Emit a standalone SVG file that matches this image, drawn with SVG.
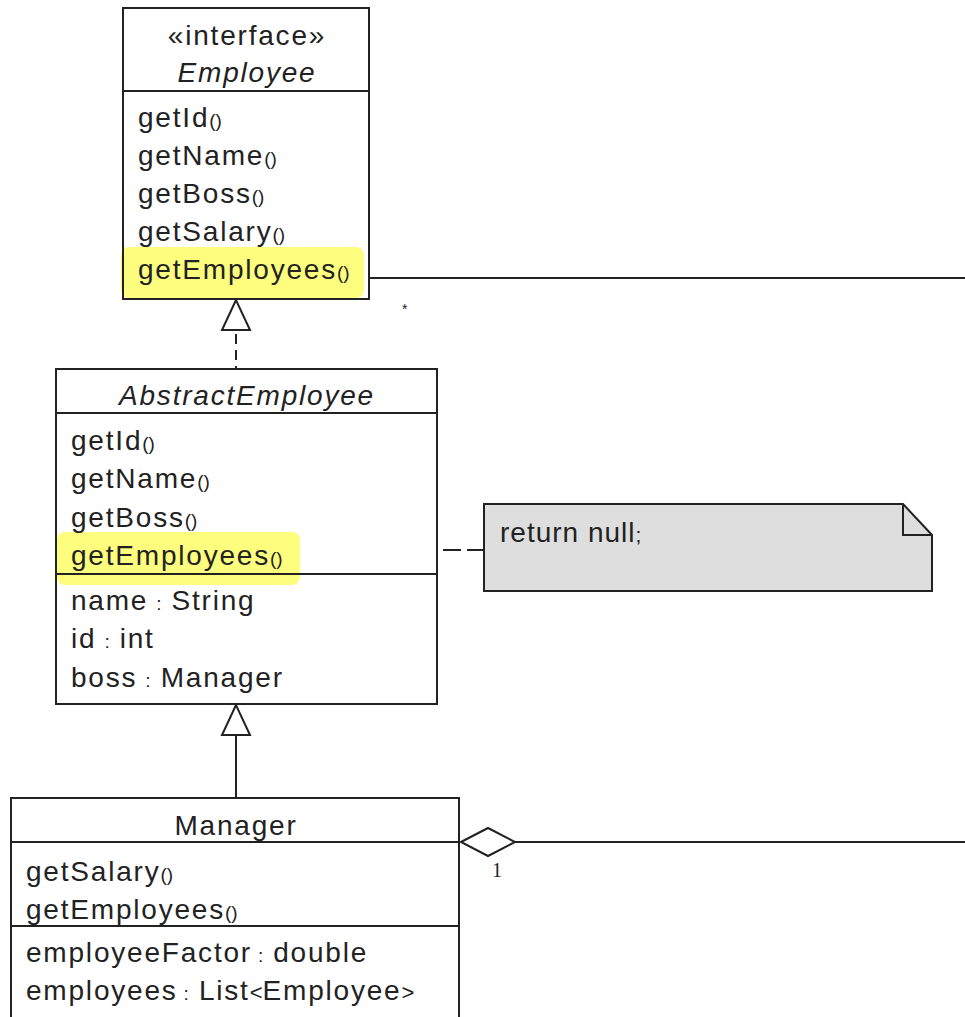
<svg xmlns="http://www.w3.org/2000/svg" width="965" height="1017" viewBox="0 0 965 1017">
<style>
.t{font-family:"Liberation Sans",Arial,sans-serif;font-size:28px;fill:#222;letter-spacing:1.8px}
.c{text-anchor:middle}
.i{font-style:italic}
.p{font-size:19px;letter-spacing:0}
.box{fill:#fff;stroke:#222;stroke-width:2}
.ln{stroke:#222;stroke-width:2;fill:none}
.hl{fill:#fdfd7e}
</style>
<rect width="965" height="1017" fill="#fff"/>
<g id="connectors">
  <line class="ln" x1="369" y1="278" x2="965" y2="278"/>
  <text x="402" y="314" style="font-family:'Liberation Sans',Arial,sans-serif;font-size:14px;fill:#222">*</text>
  <polygon class="ln" points="236,300 222,330 250,330"/>
  <line class="ln" x1="236" y1="330" x2="236" y2="369" stroke-dasharray="10 6" stroke-dashoffset="-4"/>
  <polygon class="ln" points="236,705 222,735 250,735"/>
  <line class="ln" x1="236" y1="735" x2="236" y2="798"/>
  <line class="ln" x1="443" y1="550" x2="484" y2="550" stroke-dasharray="18 6"/>
  <polygon class="ln" points="461,842 488,828 515,842 488,856"/>
  <line class="ln" x1="515" y1="842" x2="965" y2="842"/>
  <text x="492" y="877" style="font-family:'Liberation Serif','Times New Roman',serif;font-size:20px;fill:#222">1</text>
</g>
<g id="employee">
  <rect class="box" x="123" y="8" width="246" height="291"/>
  <rect class="hl" x="121" y="247" width="243" height="51" rx="8"/>
  <rect x="123" y="8" width="246" height="291" fill="none" stroke="#222" stroke-width="2"/>
  <line class="ln" x1="123" y1="91" x2="369" y2="91"/>
  <text class="t c" x="247" y="45">«interface»</text>
  <text class="t c i" x="247" y="82">Employee</text>
  <text class="t" x="138" y="127">getId<tspan class="p">()</tspan></text>
  <text class="t" x="138" y="165">getName<tspan class="p">()</tspan></text>
  <text class="t" x="138" y="203">getBoss<tspan class="p">()</tspan></text>
  <text class="t" x="138" y="241">getSalary<tspan class="p">()</tspan></text>
  <text class="t" x="138" y="279">getEmployees<tspan class="p">()</tspan></text>
</g>
<g id="abstractEmployee">
  <rect class="box" x="56" y="369" width="381" height="335"/>
  <rect class="hl" x="57" y="532" width="243" height="53" rx="8"/>
  <rect x="56" y="369" width="381" height="335" fill="none" stroke="#222" stroke-width="2"/>
  <line class="ln" x1="56" y1="413" x2="437" y2="413"/>
  <line class="ln" x1="56" y1="574" x2="437" y2="574"/>
  <text class="t c i" x="247" y="405">AbstractEmployee</text>
  <text class="t" x="71" y="450">getId<tspan class="p">()</tspan></text>
  <text class="t" x="71" y="488">getName<tspan class="p">()</tspan></text>
  <text class="t" x="71" y="527">getBoss<tspan class="p">()</tspan></text>
  <text class="t" x="71" y="565">getEmployees<tspan class="p">()</tspan></text>
  <text class="t" x="71" y="610">name<tspan class="p" dx="8">:</tspan><tspan dx="10">String</tspan></text>
  <text class="t" x="71" y="648">id<tspan class="p" dx="8">:</tspan><tspan dx="10">int</tspan></text>
  <text class="t" x="71" y="687">boss<tspan class="p" dx="8">:</tspan><tspan dx="10">Manager</tspan></text>
</g>
<g id="note">
  <path d="M484,504 H903 L932,535 V591 H484 Z" fill="#dedede" stroke="#222" stroke-width="2"/>
  <path d="M903,504 V535 H932" class="ln"/>
  <text class="t" x="500" y="542" style="font-size:28px;letter-spacing:1px">return null<tspan class="p" style="font-size:21px">;</tspan></text>
</g>
<g id="manager">
  <rect class="box" x="11" y="798" width="448" height="232"/>
  <line class="ln" x1="11" y1="842" x2="459" y2="842"/>
  <line class="ln" x1="11" y1="926" x2="459" y2="926"/>
  <text class="t c" x="236" y="835">Manager</text>
  <text class="t" x="26" y="881">getSalary<tspan class="p">()</tspan></text>
  <text class="t" x="26" y="919">getEmployees<tspan class="p">()</tspan></text>
  <text class="t" x="26" y="962">employeeFactor<tspan class="p" dx="6">:</tspan><tspan dx="10">double</tspan></text>
  <text class="t" x="26" y="1000">employees<tspan class="p" dx="6">:</tspan><tspan dx="10">List<tspan class="p" style="font-size:22px">&lt;</tspan>Employee<tspan class="p" style="font-size:22px">&gt;</tspan></tspan></text>
</g>
</svg>
